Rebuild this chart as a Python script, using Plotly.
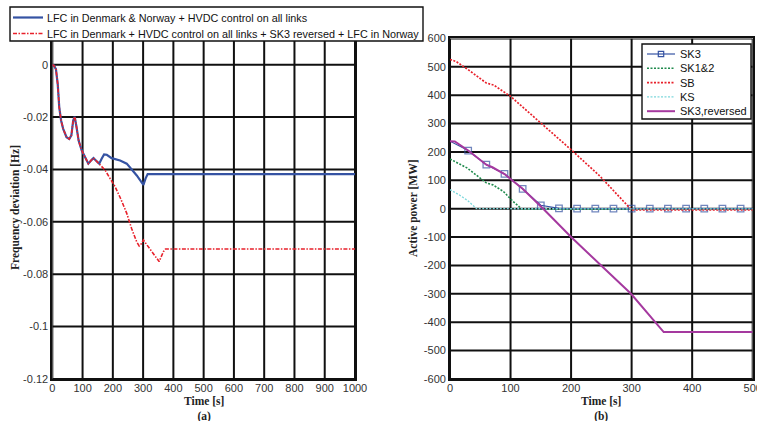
import plotly.graph_objects as go

# ---------------- data: (a) frequency deviation ----------------
t_lfc_dk_no = [0, 5, 12, 18, 23, 29, 36, 47, 56, 63, 69, 74, 80, 87, 97, 108, 119, 128, 136, 144,
               155, 163, 171, 180, 196, 224, 246, 279, 301, 308, 315, 1000]
f_lfc_dk_no = [0, -0.0003, -0.0017, -0.0075, -0.0163, -0.0213, -0.0245, -0.0277, -0.0284, -0.027,
               -0.0213, -0.0199, -0.0238, -0.029, -0.0327, -0.0353, -0.0378, -0.0366, -0.0357, -0.0366,
               -0.0378, -0.0359, -0.0343, -0.0344, -0.0357, -0.0366, -0.0378, -0.0423, -0.0459, -0.0435,
               -0.0418, -0.0418]

t_lfc_dk_sk3rev = [0, 5, 12, 18, 23, 29, 36, 47, 56, 63, 69, 74, 80, 87, 97, 108, 119, 128, 136, 144,
                   155, 163, 174, 191, 207, 226, 246, 262, 279, 287, 295, 301, 317, 339, 353, 367, 374, 1000]
f_lfc_dk_sk3rev = [0, -0.0003, -0.0017, -0.0075, -0.0163, -0.0213, -0.0245, -0.0277, -0.0284, -0.027,
                   -0.0213, -0.0199, -0.0238, -0.029, -0.0327, -0.0353, -0.0378, -0.0366, -0.0357, -0.0366,
                   -0.0378, -0.0387, -0.0402, -0.0435, -0.0465, -0.0512, -0.0568, -0.0626, -0.0677, -0.0692,
                   -0.0683, -0.067, -0.0695, -0.0727, -0.0752, -0.0714, -0.0704, -0.0704]

name_a1 = "LFC in Denmark & Norway + HVDC control on all links"
name_a2 = "LFC in Denmark + HVDC control on all links + SK3 reversed + LFC in Norway"

# ---------------- data: (b) active power on HVDC links ----------------
t_sk3 = [0, 30, 60, 90, 120, 150, 180, 210, 240, 270, 300, 330, 360, 390, 420, 450, 480, 500]
p_sk3 = [238, 205, 155, 123, 70, 12, 1, 0, 0, 0, 0, 0, 0, 0, 0, 0, 0, 0]

t_sk12 = [0, 28, 60, 71, 88, 104, 119, 500]
p_sk12 = [175, 144, 91, 84, 61, 26, -2, -2]

t_sb = [0, 10, 30, 60, 72, 100, 150, 200, 248, 285, 298, 302, 500]
p_sb = [526, 519, 490, 443, 436, 396, 302, 208, 114, 32, 0, -4, -4]

t_ks = [0, 15, 29, 44, 500]
p_ks = [67, 49, 29, 0, -1]

t_sk3rev = [0, 8, 30, 60, 70, 90, 120, 154, 200, 250, 299, 353, 500]
p_sk3rev = [238, 237, 205, 155, 146, 122, 70, 0, -100, -200, -300, -435, -435]

# ---------------- axis ranges and ticks ----------------
a_xrange = [0, 1000]
a_yrange = [-0.12, 0.01]
b_xrange = [0, 500]
b_yrange = [-600, 600]
a_xticks = list(range(0, 1001, 100))
a_xlabels = [str(v) for v in a_xticks]
a_yticks = [0, -0.02, -0.04, -0.06, -0.08, -0.1, -0.12]
a_ylabels = ["0", "-0.02", "-0.04", "-0.06", "-0.08", "-0.1", "-0.12"]
b_xticks = list(range(0, 501, 100))
b_xlabels = [str(v) for v in b_xticks]
b_yticks = list(range(-600, 601, 100))
b_ylabels = [str(v) for v in b_yticks]

# ---------------- styles ----------------
W, H = 757, 421
SANS = "Liberation Sans, Arial, sans-serif"
SERIF = "Liberation Serif, Times New Roman, serif"

BLUE = "#3553A3"
RED = "#E8212B"
GREEN = "#1F8A4C"
CYAN = "#7DD8DC"
PURPLE = "#A5399F"
GRID = "#101010"

styles = {
    "a1": dict(color=BLUE, width=2.2, dash="solid"),
    "a2": dict(color=RED, width=1.6, dash="4px,1.5px,1.5px,1.5px"),
    "SK3": dict(color=BLUE, width=1.2, dash="solid"),
    "SK1&2": dict(color=GREEN, width=1.6, dash="2px,1.5px"),
    "SB": dict(color=RED, width=1.7, dash="2px,1.5px"),
    "KS": dict(color=CYAN, width=1.3, dash="2px,1.5px"),
    "SK3,reversed": dict(color=PURPLE, width=2.0, dash="solid"),
}


def px(x):
    return x / W


def py(y):
    return 1 - y / H


def grid_trace(xticks, yticks, xr, yr, xa, ya):
    """One line trace holding every grid line of a panel, drawn beneath the data."""
    gx, gy = [], []
    for v in xticks:
        gx += [v, v, None]
        gy += [yr[0], yr[1], None]
    for v in yticks:
        gx += [xr[0], xr[1], None]
        gy += [v, v, None]
    return go.Scatter(x=gx, y=gy, mode="lines", line=dict(color=GRID, width=2.0),
                      hoverinfo="skip", showlegend=False, xaxis=xa, yaxis=ya, cliponaxis=True)


fig = go.Figure()
fig.add_trace(grid_trace(a_xticks, a_yticks, a_xrange, a_yrange, "x", "y"))
fig.add_trace(grid_trace(b_xticks, b_yticks, b_xrange, b_yrange, "x2", "y2"))

fig.add_trace(go.Scatter(x=t_lfc_dk_no, y=f_lfc_dk_no, mode="lines", line=styles["a1"],
                         xaxis="x", yaxis="y", showlegend=False))
fig.add_trace(go.Scatter(x=t_lfc_dk_sk3rev, y=f_lfc_dk_sk3rev, mode="lines", line=styles["a2"],
                         xaxis="x", yaxis="y", showlegend=False))

sk3_marker_size = [0 if (t % 30 != 0 or t == 0) else 6.5 for t in t_sk3]
fig.add_trace(go.Scatter(x=t_sk3, y=p_sk3, mode="lines+markers", line=styles["SK3"],
                         marker=dict(symbol="square-open", size=sk3_marker_size, color=BLUE,
                                     line=dict(width=1.3, color=BLUE)),
                         xaxis="x2", yaxis="y2", showlegend=False))
fig.add_trace(go.Scatter(x=t_sk12, y=p_sk12, mode="lines", line=styles["SK1&2"],
                         xaxis="x2", yaxis="y2", showlegend=False))
fig.add_trace(go.Scatter(x=t_sb, y=p_sb, mode="lines", line=styles["SB"],
                         xaxis="x2", yaxis="y2", showlegend=False))
fig.add_trace(go.Scatter(x=t_ks, y=p_ks, mode="lines", line=styles["KS"],
                         xaxis="x2", yaxis="y2", showlegend=False))
fig.add_trace(go.Scatter(x=t_sk3rev, y=p_sk3rev, mode="lines", line=styles["SK3,reversed"],
                         xaxis="x2", yaxis="y2", showlegend=False))

axis_common = dict(showgrid=False, zeroline=False,
                   showline=True, linecolor=GRID, linewidth=1.8, mirror=True, ticks="",
                   tickfont=dict(family=SANS, size=11, color="#333333"), fixedrange=True)

dom_y = [0.1, 0.9086]
fig.update_layout(
    template="none",
    width=W, height=H, margin=dict(l=0, r=0, t=0, b=0, pad=0),
    paper_bgcolor="white", plot_bgcolor="white", showlegend=False,
    xaxis=dict(domain=[px(52.3), px(355)], range=a_xrange, tickmode="array", tickvals=a_xticks,
               ticktext=a_xlabels, anchor="y", ticklabelstandoff=-2, **axis_common),
    yaxis=dict(domain=dom_y, range=a_yrange, tickmode="array", tickvals=a_yticks,
               ticktext=a_ylabels, anchor="x", **axis_common),
    xaxis2=dict(domain=[px(450), px(752.7)], range=b_xrange, tickmode="array", tickvals=b_xticks,
                ticktext=b_xlabels, anchor="y2", ticklabeloverflow="allow", ticklabelstandoff=-2,
                **axis_common),
    yaxis2=dict(domain=dom_y, range=b_yrange, tickmode="array", tickvals=b_yticks,
                ticktext=b_ylabels, anchor="x2", **axis_common),
)

shapes = []
annotations = []

# axis titles and panel labels
title_font = dict(family=SERIF, size=11.5, color="#222222")
for cx, ytitle, panel, cy_x in [(203.7, "Frequency deviation [Hz]", "(a)", 15),
                                (601.3, "Active power [MW]", "(b)", 413)]:
    annotations.append(dict(x=px(cx), y=py(408.5), xref="paper", yref="paper",
                            text=f"<b>Time [s]</b><br><b>{panel}</b>",
                            showarrow=False, xanchor="center", yanchor="middle", font=title_font))
    annotations.append(dict(x=px(cy_x), y=py(208), xref="paper", yref="paper", text=f"<b>{ytitle}</b>",
                            showarrow=False, textangle=-90, xanchor="center", yanchor="middle",
                            font=title_font))


def legend_box(x0, y0, x1, y1, entries, row0, step, sx0, sx1, tx, font):
    shapes.append(dict(type="rect", xref="paper", yref="paper", x0=px(x0), x1=px(x1), y0=py(y0), y1=py(y1),
                       fillcolor="white", line=dict(color=GRID, width=1.4), layer="above"))
    for i, (label, key) in enumerate(entries):
        yy = row0 + i * step
        st = styles[key]
        shapes.append(dict(type="line", xref="paper", yref="paper", x0=px(sx0), x1=px(sx1), y0=py(yy), y1=py(yy),
                           line=dict(color=st["color"], width=st["width"], dash=st["dash"]), layer="above"))
        if key == "SK3":
            cx = (sx0 + sx1) / 2
            shapes.append(dict(type="rect", xref="paper", yref="paper", x0=px(cx - 2.7), x1=px(cx + 2.7),
                               y0=py(yy - 2.7), y1=py(yy + 2.7), fillcolor="rgba(0,0,0,0)",
                               line=dict(color=BLUE, width=1.2), layer="above"))
        annotations.append(dict(x=px(tx), y=py(yy), xref="paper", yref="paper", text=label, showarrow=False,
                                xanchor="left", yanchor="middle", font=font))


legend_box(10, 7, 423, 41, [(name_a1, "a1"), (name_a2, "a2")], 17.5, 16, 13, 43, 44.5,
           dict(family=SANS, size=10.8, color="#111111"))
legend_box(642, 44, 751, 119,
           [("SK3", "SK3"), ("SK1&2", "SK1&2"), ("SB", "SB"), ("KS", "KS"), ("SK3,reversed", "SK3,reversed")],
           54, 14.3, 647, 675, 677.5, dict(family=SANS, size=11, color="#111111"))

fig.update_layout(shapes=shapes, annotations=annotations)
fig.write_html("out.html")
